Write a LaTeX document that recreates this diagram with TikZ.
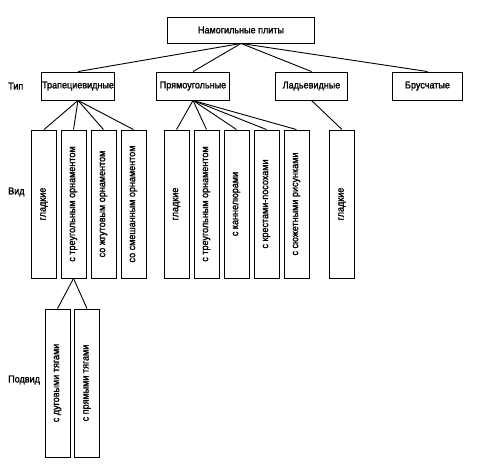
\documentclass[tikz,border=0pt]{standalone}
\usepackage{fontspec}
\setmainfont{Liberation Sans}[FakeStretch=0.9,FakeBold=1.6]
\usepackage{xcolor}

\begin{document}
\begin{tikzpicture}[scale=0.35,
  every node/.style={font=\fontsize{10}{12}\selectfont, inner sep=0pt},
  hbox/.style={draw, line width=0.9pt, minimum width=2.55cm, minimum height=0.98cm},
  vbox/.style={draw, line width=0.9pt, minimum width=0.875cm, minimum height=5.18cm},
  level/.style={anchor=west}]
\useasboundingbox (0,0) rectangle (47.9,-47.2);
\node [draw, line width=0.9pt, minimum width=5.145cm, minimum height=0.91cm] (plity) at (24.1,-3.0) {Намогильные плиты};
% тип
\node [level] (tip) at (0.8,-8.6) {Тип};
\node [hbox] (trap) at (7.8,-8.6) {Трапециевидные};
\node [hbox] (pryam) at (19.3,-8.6) {Прямоугольные};
\node [hbox] (lad) at (31.15,-8.6) {Ладьевидные};
\node [hbox, minimum width=2.42cm] (brus) at (42.75,-8.6) {Брусчатые};
\draw [line width=0.9pt] (plity.south) -- (trap.north);
\draw [line width=0.9pt] (plity.south) -- (pryam.north);
\draw [line width=0.9pt] (plity.south) -- (lad.north);
\draw [line width=0.9pt] (plity.south) -- (brus.north);
% вид
\node [level] (vid) at (0.8,-19.2) {Вид};
\node [vbox] (trapA) at (4.4,-20.4) {\rotatebox{90}{гладкие}};
\node [vbox] (trapB) at (7.35,-20.4) {\rotatebox{90}{с треугольным орнаментом}};
\node [vbox] (trapC) at (10.35,-20.4) {\rotatebox{90}{со жгутовым орнаментом}};
\node [vbox] (trapD) at (13.35,-20.4) {\rotatebox{90}{со смешанным орнаментом}};
\node [vbox] (pryamA) at (17.65,-20.4) {\rotatebox{90}{гладкие}};
\node [vbox] (pryamB) at (20.65,-20.4) {\rotatebox{90}{с треугольным орнаментом}};
\node [vbox] (pryamC) at (23.65,-20.4) {\rotatebox{90}{с каннелюрами}};
\node [vbox] (pryamD) at (26.65,-20.4) {\rotatebox{90}{с крестами-посохами}};
\node [vbox] (pryamE) at (29.65,-20.4) {\rotatebox{90}{с сюжетными рисунками}};
\node [vbox] (ladA) at (34.2,-20.4) {\rotatebox{90}{гладкие}};
\draw [line width=0.9pt] (trap.south) -- (trapA.north);
\draw [line width=0.9pt] (trap.south) -- (trapB.north);
\draw [line width=0.9pt] (trap.south) -- (trapC.north);
\draw [line width=0.9pt] (trap.south) -- (trapD.north);
\draw [line width=0.9pt] (pryam.south) -- (pryamA.north);
\draw [line width=0.9pt] (pryam.south) -- (pryamB.north);
\draw [line width=0.9pt] (pryam.south) -- (pryamC.north);
\draw [line width=0.9pt] (pryam.south) -- (pryamD.north);
\draw [line width=0.9pt] (pryam.south) -- (pryamE.north);
\draw [line width=0.9pt] (lad.south) -- (ladA.north);
% подвид
\node [level] (podvid) at (0.8,-38.0) {Подвид};
\node [vbox] (dug) at (5.75,-38.3) {\rotatebox{90}{с дуговыми тягами}};
\node [vbox] (pryamtyag) at (8.7,-38.3) {\rotatebox{90}{с прямыми тягами}};
\draw [line width=0.9pt] (trapB.south) -- (dug.north);
\draw [line width=0.9pt] (trapB.south) -- (pryamtyag.north);
\end{tikzpicture}
\end{document}
